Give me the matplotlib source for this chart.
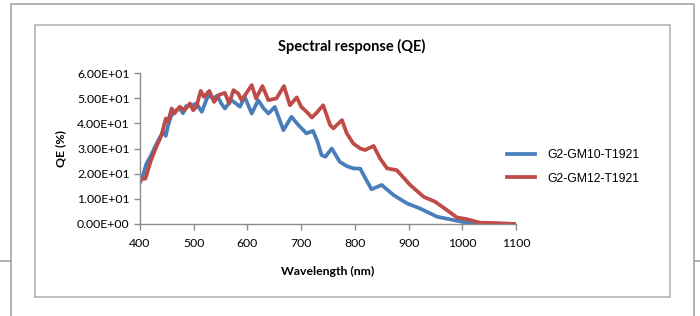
import matplotlib.pyplot as plt
from matplotlib.lines import Line2D
from matplotlib.ticker import FuncFormatter

# QE curves (nm, %)
wl_gm10 = [400, 405, 412, 420, 428, 436, 443, 448, 452, 458, 466, 474, 480, 486, 495,
           505, 515, 527, 536, 544, 551, 558, 570, 578, 586, 595, 608, 620, 630, 639,
           651, 667, 682, 695, 710, 722, 730, 738, 745, 757, 772, 785, 797, 810, 820,
           831, 850, 872, 897, 921, 953, 983, 1014, 1040, 1070, 1100]
qe_gm10 = [16.5, 19, 24, 27, 30.7, 34, 36.6, 35, 39, 43, 45, 46, 44, 46.8, 47,
           47.9, 44.6, 51.2, 49.9, 51, 48, 45.9, 49.2, 48, 46.6, 50.5, 43.9, 49.2, 46, 43.9,
           46.5, 37.3, 42.6, 39.3, 36, 37, 33, 27.4, 26.7, 30, 24.7, 23, 22.1, 22, 18,
           13.8, 15.5, 11.5, 8.2, 6.2, 2.9, 1.6, 0.3, 0.1, 0.0, 0.0]

wl_gm12 = [400, 405, 410, 420, 428, 440, 448, 452, 459, 464, 474, 483, 493, 499, 505,
           513, 519, 529, 538, 547, 558, 566, 574, 583, 589, 598, 608, 616, 628, 639,
           654, 668, 679, 692, 700, 712, 720, 728, 741, 754, 760, 776, 785, 797, 810,
           819, 835, 847, 860, 878, 903, 928, 949, 971, 990, 1009, 1033, 1058, 1080, 1100]
qe_gm12 = [17, 18, 18, 25, 29.4, 35.3, 41.9, 40.6, 45.9, 43.9, 46.6, 45.2, 47.9, 45.2, 46.6,
           52.9, 50.5, 52.9, 48.5, 51.3, 52.1, 47.9, 53.2, 51.8, 49.2, 52, 55.2, 49.9, 54.8, 49.2,
           49.9, 54.8, 47.2, 50.3, 46.6, 44.2, 42.3, 44, 47.2, 39.3, 38, 41.3, 36, 32, 30,
           29.4, 31, 26, 22.1, 21.4, 15.5, 10.8, 8.9, 5.6, 2.6, 1.9, 0.5, 0.4, 0.2, 0.0]

labels = ['G2-GM10-T1921', 'G2-GM12-T1921']
colors = ['#4a7ebb', '#be4b48']
x_ticks = [400, 500, 600, 700, 800, 900, 1000, 1100]
y_ticks = [0, 10, 20, 30, 40, 50, 60]

W, H = 700, 316
fig = plt.figure(figsize=(7, 3.16), dpi=100)
ax = fig.add_axes([140 / W, 1 - 224 / H, 376 / W, 151 / H])

ax.plot(wl_gm10, qe_gm10, color=colors[0], lw=2.7, label=labels[0])
ax.plot(wl_gm12, qe_gm12, color=colors[1], lw=2.7, label=labels[1])

ax.set_xlim(400, 1100)
ax.set_ylim(0, 60)
ax.set_xticks(x_ticks)
ax.set_yticks(y_ticks)
ax.yaxis.set_major_formatter(FuncFormatter(lambda v, p: f'{v:.2E}'))

font = 'Lato'
for s in ['top', 'right']:
    ax.spines[s].set_visible(False)
for s in ['left', 'bottom']:
    ax.spines[s].set_color('#8c8c8c')
    ax.spines[s].set_linewidth(1.0)
ax.tick_params(colors='#8c8c8c', length=4, width=1.0, labelcolor='black', labelsize=8.8)
for lab in ax.get_xticklabels() + ax.get_yticklabels():
    lab.set_fontfamily(font)
ax.tick_params(axis='x', pad=6)

ax.set_xlabel('Wavelength (nm)', fontfamily=font, fontweight='bold', fontsize=8.8, labelpad=12)
ax.set_ylabel('QE (%)', fontfamily=font, fontweight='bold', fontsize=8.8, labelpad=8)

fig.text(352 / W, 1 - 46 / H, 'Spectral response (QE)', ha='center', va='center',
         fontfamily=font, fontweight='bold', fontsize=10.5)

handles = [Line2D([], [], color=c, lw=2.7) for c in colors]
fig.legend(handles, labels, loc='center left', bbox_to_anchor=(496 / W, 1 - 167 / H),
           frameon=False, prop={'family': 'Liberation Sans', 'size': 8.8},
           handlelength=2.3, handletextpad=1.0, labelspacing=0.9)

# page frame and chart frame
def fline(xs, ys, color, lw):
    fig.add_artist(Line2D([x / W for x in xs], [1 - y / H for y in ys],
                          color=color, lw=lw, transform=fig.transFigure))

fline([10.5, 10.5, 694, 694], [316, 3.5, 3.5, 316], '#a6a6a6', 1.2)
fline([0, 10.5], [261, 261], '#a6a6a6', 1.2)
fline([694, 700], [261, 261], '#a6a6a6', 1.2)
fline([35, 35, 670, 670, 35], [297, 24.5, 24.5, 297, 297], '#b4b4b4', 1.2)

fig.savefig('out.png', dpi=100)
